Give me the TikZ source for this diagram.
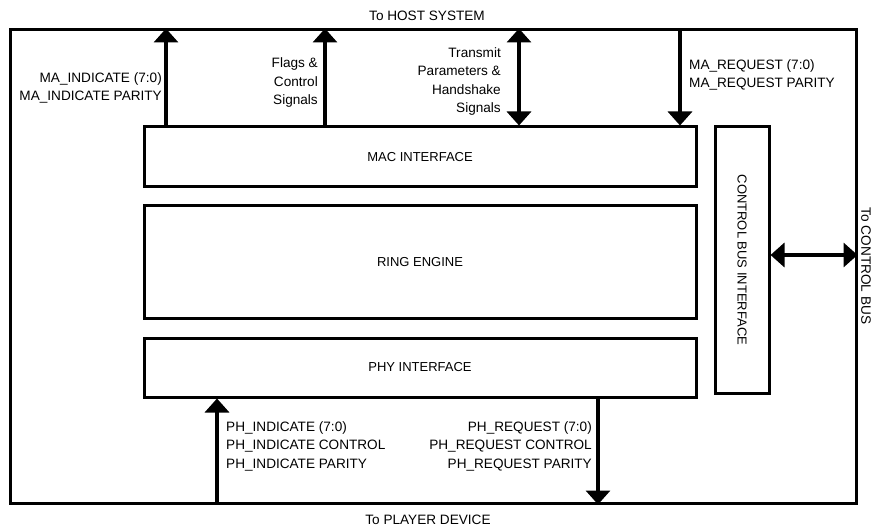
\documentclass[tikz,border=0pt]{standalone}
\usepackage{fontspec}
\setmainfont{Liberation Sans}
\usetikzlibrary{arrows.meta}
\begin{document}
\begin{tikzpicture}[x=1pt, y=-1pt, line join=miter,
    blk/.style={draw, line width=3pt, inner sep=0pt, font=\fontsize{13}{15}\selectfont},
    sig/.style={line width=4pt, -{Triangle[width=24pt,length=14pt]}},
    bisig/.style={line width=4pt, {Triangle[width=24pt,length=14pt]}-{Triangle[width=24pt,length=14pt]}},
    lbl/.style={font=\fontsize{13.6}{18.6}\selectfont, inner sep=0pt}]
  \useasboundingbox (0,0) rectangle (874,529);
  % blocks
  \node[blk, minimum width=846pt, minimum height=473pt] (outer) at (433,266.5) {};
  \node[blk, minimum width=552pt, minimum height=60pt] (mac) at (420,157) {MAC INTERFACE};
  \node[blk, minimum width=552pt, minimum height=112pt] (ring) at (420,262) {RING ENGINE};
  \node[blk, minimum width=552pt, minimum height=59pt] (phy) at (420,367.5) {PHY INTERFACE};
  \node[blk, minimum width=54pt, minimum height=266pt] (cbi) at (742,260) {\rotatebox{-90}{CONTROL BUS INTERFACE}};
  % signal positions
  \coordinate (maind) at (166,0);
  \coordinate (flags) at (325,0);
  \coordinate (xmit) at (519,0);
  \coordinate (mareq) at (680,0);
  \coordinate (phind) at (217,0);
  \coordinate (phreq) at (598,0);
  \coordinate (cbus) at (0,255);
  % connectors
  \draw[sig] (maind |- mac.north) -- (maind |- outer.north);
  \draw[sig] (flags |- mac.north) -- (flags |- outer.north);
  \draw[bisig] (xmit |- mac.north) -- (xmit |- outer.north);
  \draw[sig] (mareq |- outer.north) -- (mareq |- mac.north);
  \draw[sig] (phind |- outer.south) -- (phind |- phy.south);
  \draw[sig] (phreq |- phy.south) -- (phreq |- outer.south);
  \draw[bisig] (cbi.east |- cbus) -- (outer.east |- cbus);
  % labels
  \node[lbl, anchor=north east, align=right] (maindl) at (162,72) {MA\_INDICATE (7:0)\\MA\_INDICATE PARITY};
  \node[lbl, anchor=north east, align=right] (flagsl) at (318,57.5) {Flags \&\\Control\\Signals};
  \node[lbl, anchor=north east, align=right] (xmitl) at (501,47) {Transmit\\Parameters \&\\Handshake\\Signals};
  \node[lbl, anchor=north west, align=left] (mareql) at (689,59) {MA\_REQUEST (7:0)\\MA\_REQUEST PARITY};
  \node[lbl, anchor=north west, align=left] (phindl) at (226,421) {PH\_INDICATE (7:0)\\PH\_INDICATE CONTROL\\PH\_INDICATE PARITY};
  \node[lbl, anchor=north east, align=right] (phreql) at (592,421) {PH\_REQUEST (7:0)\\PH\_REQUEST CONTROL\\PH\_REQUEST PARITY};
  \node[lbl] (host) at (427,16) {To HOST SYSTEM};
  \node[lbl] (player) at (428,520) {To PLAYER DEVICE};
  \node[lbl, rotate=-90] (ctrl) at (866,266) {To CONTROL BUS};
\end{tikzpicture}
\end{document}
